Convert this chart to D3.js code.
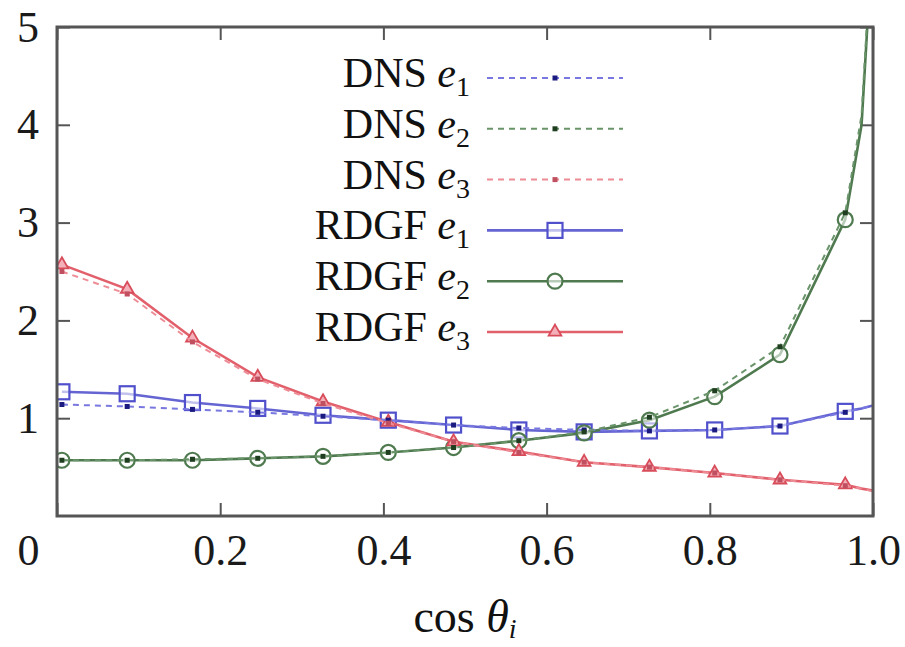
<!DOCTYPE html>
<html><head><meta charset="utf-8">
<script src="https://cdn.jsdelivr.net/npm/d3@7"></script>
<style>body{margin:0;background:#fff}</style>
</head><body><svg id="c" width="905" height="647"></svg>
<script>
// ---- data ----
const xVals   = [0.006,0.086,0.166,0.246,0.326,0.406,0.486,0.566,0.646,0.726,0.806,0.886,0.966,0.986,1.0];
const markerCount = 13;
const dnsE1   = [1.14,1.12,1.09,1.06,1.02,0.98,0.93,0.90,0.88,0.87,0.88,0.92,1.06,1.10,1.13];
const dnsE2   = [0.57,0.57,0.58,0.59,0.61,0.65,0.70,0.77,0.86,1.01,1.28,1.73,3.10,4.10,6.10];
const dnsE3   = [2.50,2.27,1.78,1.40,1.15,0.95,0.76,0.65,0.55,0.50,0.44,0.37,0.31,0.28,0.25];
const rdgfE1  = [1.27,1.25,1.16,1.10,1.03,0.98,0.93,0.88,0.86,0.87,0.88,0.92,1.07,1.10,1.13];
const rdgfE2  = [0.57,0.57,0.57,0.59,0.61,0.65,0.70,0.77,0.85,0.98,1.22,1.65,3.03,4.00,6.00];
const rdgfE3  = [2.57,2.32,1.82,1.42,1.17,0.96,0.76,0.66,0.55,0.50,0.44,0.37,0.32,0.28,0.26];
const xTicks = [0,0.2,0.4,0.6,0.8,1.0];
const xTickLabels = ["0","0.2","0.4","0.6","0.8","1.0"];
const yTicks = [1,2,3,4,5];
const yTickLabels = ["1","2","3","4","5"];
const legendNames = ["DNS","DNS","DNS","RDGF","RDGF","RDGF"];
const legendSubs  = ["1","2","3","1","2","3"];

// ---- styles ----
const FONT = "'Liberation Serif','Times New Roman',serif";
const series = [
  {vals:dnsE1,  color:"#7878e0", dot:"#1a1a80", dashed:true,  marker:"dot"},
  {vals:dnsE2,  color:"#6a946a", dot:"#1f3d1f", dashed:true,  marker:"dot"},
  {vals:dnsE3,  color:"#ee8c96", dot:"#c05060", dashed:true,  marker:"dot"},
  {vals:rdgfE1, color:"#6464d2", dot:"#5050cc", dashed:false, marker:"square"},
  {vals:rdgfE2, color:"#4f7a4f", dot:"#4f7a4f", dashed:false, marker:"circle"},
  {vals:rdgfE3, color:"#e2606c", dot:"#d84c5a", dashed:false, marker:"triangle"}
];

const svg = d3.select("#c");
const x = d3.scaleLinear().domain([0,1]).range([57,873]);
const y = d3.scaleLinear().domain([0,5]).range([516,27]);

svg.append("rect").attr("width",905).attr("height",647).attr("fill","#fff");

svg.append("clipPath").attr("id","clip").append("rect")
  .attr("x",x(0)).attr("y",y(5)).attr("width",x(1)-x(0)).attr("height",y(0)-y(5));

// axes (inward ticks, gnuplot style)
const tickCol = "#555";
const gx = svg.append("g").attr("transform",`translate(0,${y(0)})`)
  .call(d3.axisBottom(x).tickValues(xTicks).tickSize(-13).tickPadding(18)
        .tickFormat((d,i)=>xTickLabels[i]));
gx.select(".domain").remove();
gx.selectAll("line").attr("stroke",tickCol).attr("stroke-width",2);
gx.selectAll("text").attr("font-family",FONT).attr("font-size",44).attr("fill","#1a1a1a")
  .attr("x",d=>d===0?-29:0);

const gxt = svg.append("g").attr("transform",`translate(0,${y(5)})`)
  .call(d3.axisTop(x).tickValues(xTicks).tickSize(-13).tickFormat(""));
gxt.select(".domain").remove();
gxt.selectAll("line").attr("stroke",tickCol).attr("stroke-width",2);

const gy = svg.append("g").attr("transform",`translate(${x(0)},0)`)
  .call(d3.axisLeft(y).tickValues(yTicks).tickSize(-13).tickPadding(18)
        .tickFormat((d,i)=>yTickLabels[i]));
gy.select(".domain").remove();
gy.selectAll("line").attr("stroke",tickCol).attr("stroke-width",2);
gy.selectAll("text").attr("font-family",FONT).attr("font-size",44).attr("fill","#1a1a1a");

const gyr = svg.append("g").attr("transform",`translate(${x(1)},0)`)
  .call(d3.axisRight(y).tickValues(yTicks).tickSize(-13).tickFormat(""));
gyr.select(".domain").remove();
gyr.selectAll("line").attr("stroke",tickCol).attr("stroke-width",2);

// series
const plot = svg.append("g").attr("clip-path","url(#clip)");
const line = d3.line().x((d,i)=>x(xVals[i])).y(d=>y(d));

function drawMarker(g, kind, cx, cy, s){
  if(kind==="dot"){
    g.append("rect").attr("x",cx-2.5).attr("y",cy-2.5).attr("width",5).attr("height",5)
      .attr("fill",s.dot);
  } else if(kind==="square"){
    g.append("rect").attr("x",cx-7.5).attr("y",cy-7.5).attr("width",15).attr("height",15)
      .attr("fill","#fff").attr("fill-opacity",0.6).attr("stroke",s.dot).attr("stroke-width",2.2);
  } else if(kind==="circle"){
    g.append("circle").attr("cx",cx).attr("cy",cy).attr("r",7.5)
      .attr("fill","#fff").attr("fill-opacity",0.6).attr("stroke",s.dot).attr("stroke-width",2.2);
  } else if(kind==="triangle"){
    g.append("path").attr("d",d3.symbol().type(d3.symbolTriangle).size(70)())
      .attr("transform",`translate(${cx},${cy})`)
      .attr("fill","#f4b0b8").attr("stroke",s.dot).attr("stroke-width",1.8);
  }
}

// draw RDGF first (under), then DNS dashed on top
const order = [3,4,5,0,1,2];
order.forEach(k=>{
  const s = series[k];
  plot.append("path").datum(s.vals).attr("d",line)
    .attr("fill","none").attr("stroke",s.color)
    .attr("stroke-width",s.dashed?2:2.6)
    .attr("stroke-dasharray",s.dashed?"6,5":null);
  const mg = plot.append("g");
  s.vals.slice(0,markerCount).forEach((v,i)=>{
    drawMarker(mg, s.marker, x(xVals[i]), y(v), s);
  });
});

// frame
svg.append("rect").attr("x",x(0)).attr("y",y(5)).attr("width",x(1)-x(0)).attr("height",y(0)-y(5))
  .attr("fill","none").attr("stroke","#555").attr("stroke-width",3);

// legend
const legY0 = 78, legStep = 50.8, legTextX = 470, legL1 = 487, legL2 = 623;
series.forEach((s,i)=>{
  const yy = legY0 + i*legStep;
  const t = svg.append("text").attr("x",legTextX).attr("y",yy+9)
    .attr("text-anchor","end").attr("font-family",FONT).attr("font-size",42).attr("fill","#111");
  t.append("tspan").text(legendNames[i]+" ");
  t.append("tspan").attr("font-style","italic").text("e");
  t.append("tspan").attr("font-size",28).attr("dy",9).text(legendSubs[i]);
  svg.append("line").attr("x1",legL1).attr("x2",legL2).attr("y1",yy).attr("y2",yy)
    .attr("stroke",s.color).attr("stroke-width",s.dashed?2:2.6)
    .attr("stroke-dasharray",s.dashed?"6,5":null);
  drawMarker(svg.append("g"), s.marker, (legL1+legL2)/2, yy, s);
});

// x-axis title
const xt = svg.append("text").attr("x",465).attr("y",632).attr("text-anchor","middle")
  .attr("font-family",FONT).attr("font-size",46).attr("fill","#111");
xt.append("tspan").text("cos ");
xt.append("tspan").attr("font-style","italic").text("θ");
xt.append("tspan").attr("font-style","italic").attr("font-size",28).attr("dy",6).text("i");
</script></body></html>
